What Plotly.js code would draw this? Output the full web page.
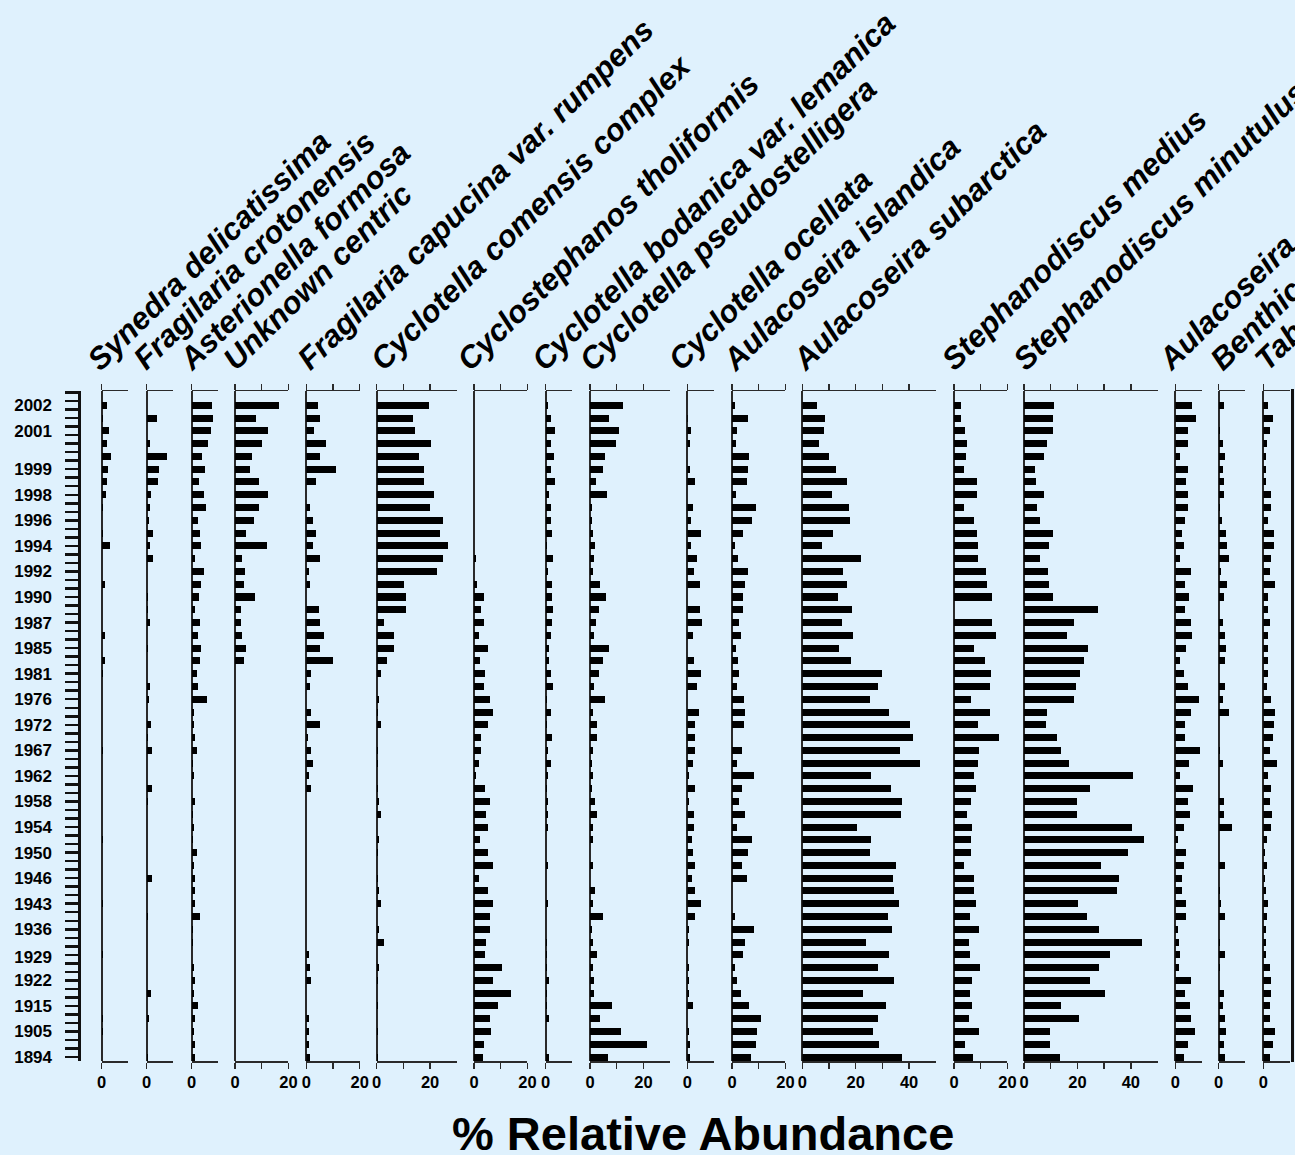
<!DOCTYPE html>
<html><head><meta charset="utf-8">
<script src="https://cdn.plot.ly/plotly-3.0.1.min.js"></script>
<style>html,body{margin:0;padding:0;background:#dff1fd;}#chart{width:1295px;height:1155px;}</style>
</head><body><div id="chart"></div>
<script>
// ---- data ----
const samplePos = [0,1,2,3,4,5,6,7,8,9,10,11,12,13,14,15,16,17,18,19,20,21,22,23,24,25,26,27,28,29,30,31,32,33,34,35,36,37,38,39,40,41,42,43,44,45,46,47,48,49,50,51];
const years = ['2002','2001','1999','1998','1996','1994','1992','1990','1987','1985','1981','1976','1972','1967','1962','1958','1954','1950','1946','1943','1936','1929','1922','1915','1905','1894'];
const yearPos = [0,2,5,7,9,11,13,15,17,19,21,23,25,27,29,31,33,35,37,39,41,43.2,45,47,49,51];
const taxa = ['Synedra delicatissima','Fragilaria crotonensis','Asterionella formosa','Unknown centric','Fragilaria capucina var. rumpens','Cyclotella comensis complex','Cyclostephanos tholiformis','Cyclotella bodanica var. lemanica','Cyclotella pseudostelligera','Cyclotella ocellata','Aulacoseira islandica','Aulacoseira subarctica','Stephanodiscus medius','Stephanodiscus minutulus','Aulacoseira ambigua','Benthic taxa','Tabellaria flocculosa'];

const synedra = [2.1,0.5,2.9,2.1,3.4,2.5,2.1,1.6,0.6,0, 0.5,3.0,0,0,1.2,0,0,0,1.2,0, 1.2,0.6,0,0,0,0,0,0.3,0,0, 0,0,0,0,0.3,0,0,0,0,0.3, 0,0,0,0.3,0,0,0,0,0.3,0.6, 0,0];
const fragCroto = [0,3.75,0,1.1,7.75,4.6,4.25,1.6,1.1,0.75, 2.5,1.1,2.5,0,0,0.6,0.6,1.1,0,0.6, 0,0,1.1,0.7,0,1.5,0.3,2.0,0,0, 2.0,0.6,0,0,0,0,0,2.0,0,0, 0.5,0,0,0,0,0,1.5,0,1.0,0, 0,0.4];
const asterionella = [7.5,7.9,7.1,6.25,4.0,4.9,2.75,4.5,5.4,2.25, 3.25,3.6,1.4,4.5,3.6,2.75,1.4,3.25,2.25,3.6, 3.25,1.9,2.25,5.75,0.9,0.9,1.4,1.9,0.5,0.9, 0,1.4,0.5,0.9,0.5,1.9,0.9,1.4,1.4,1.4, 3.1,0.5,0.5,0,0.9,1.4,0.9,2.25,1.4,0.9, 1.4,1.4];
const unknownCentric = [16.3,8.0,12.2,10.0,6.5,5.7,8.8,12.2,8.8,7.0, 4.0,11.9,2.7,3.6,3.2,7.4,2.2,2.2,2.7,4.0, 3.2,0,0,0,0,0,0,0,0,0, 0,0,0,0,0,0,0,0,0,0, 0,0,0,0,0,0,0,0,0,0, 0,0];
const fragCapucina = [4.2,5.0,2.8,7.3,5.0,11.2,3.8,0,1.5,2.4, 3.8,2.4,5.0,1.0,1.5,0,4.7,5.0,6.8,5.0, 9.9,1.9,1.5,0,1.9,5.0,0.5,1.9,2.4,1.0, 1.9,0,0,0,0,0,0,0,0,0, 0,0,0,1.0,1.4,1.9,0,0,1.0,1.0, 1.0,1.4];
const cycComensis = [19.4,13.5,14.4,20.3,15.8,17.6,17.6,21.6,19.9,24.7, 23.8,26.6,24.7,22.5,10.4,10.9,10.9,2.9,6.3,6.3, 3.7,1.5,0,1.0,0.6,1.5,0,0.6,0.5,0, 0.5,1.0,1.5,0,1.0,0.5,0,0.5,1.0,1.5, 0,1.0,2.9,0,1.0,0.5,0,0.5,0,0.5, 0,0.5];
const cycloTholi = [0,0,0,0,0,0,0,0,0,0, 0,0,0.6,0,1.0,3.7,2.7,3.7,1.9,5.1, 2.3,4.1,3.7,5.9,7.2,5.4,2.8,2.8,1.9,0.6, 4.1,5.9,4.6,5.4,2.3,5.4,7.2,1.9,5.1,7.2, 5.9,5.9,4.6,4.1,10.6,7.2,13.7,8.9,5.9,6.3, 3.7,3.2];
const cycBodanica = [1.0,1.9,3.6,1.9,3.2,1.9,3.6,1.4,1.9,1.9, 2.2,0.6,2.7,1.0,2.2,2.2,2.7,2.2,1.9,1.4, 1.4,1.9,2.7,0.6,1.9,0.6,2.2,1.0,1.9,1.0, 0.6,1.0,1.0,1.0,0,0,1.0,0,0,1.0, 0,0,0.6,0.6,0.6,1.4,0.6,0.6,1.4,0, 0,1.4];
const cycPseudo = [12.2,7.3,10.8,9.9,5.5,5.0,2.4,6.4,0.6,0.6, 1.0,1.9,1.5,1.0,3.8,5.9,3.3,2.4,1.5,7.3, 4.7,3.3,1.5,5.5,1.0,2.8,2.8,1.0,0.6,1.0, 0.6,1.9,2.8,1.0,1.0,0,1.0,0,1.9,1.0, 4.7,0.6,1.0,2.8,1.0,1.5,1.5,8.2,3.8,11.7, 21.4,6.8];
const cycOcellata = [0,0.4,1.4,1.2,0,1.1,2.9,0,2.0,1.4, 5.1,1.4,3.7,2.5,4.6,0,4.6,5.5,2.0,0, 2.5,5.1,3.7,0,4.3,2.9,2.9,2.9,2.0,0.5, 2.9,0.5,2.5,2.5,1.7,2.0,2.9,1.7,2.9,5.1, 2.9,0.5,0.5,0,0.5,0.5,0.5,2.0,0,0.5, 1.0,1.0];
const aulIslandica = [1.0,5.9,1.9,1.5,6.4,5.9,5.5,1.5,9.0,7.6, 4.1,1.0,2.4,5.9,5.0,4.1,4.1,2.75,3.25,1.5, 2.4,2.75,1.9,4.5,5.0,4.5,0,3.6,1.9,8.1, 3.6,2.75,5.0,1.9,7.6,5.9,3.6,5.5,0,0, 1.0,8.1,5.0,4.1,1.0,1.9,3.25,6.4,10.75,9.4, 9.0,7.25];
const aulSubarctica = [5.5,8.5,8.1,6.4,9.9,12.5,16.9,11.25,17.4,17.75, 11.6,7.25,22.1,15.1,16.9,13.4,18.6,14.75,19.1,13.9, 18.25,30.0,28.25,25.25,32.6,40.5,41.4,36.6,44.0,25.6, 33.1,37.5,37.0,20.4,25.6,25.25,35.25,34.0,34.4,36.1, 32.25,33.5,23.9,32.6,28.25,34.4,22.6,31.4,28.25,26.5, 28.75,37.5];
const steMedius = [2.8,2.8,4.1,5.0,4.6,3.7,8.5,8.5,3.6,7.6, 8.5,9.0,9.0,12.1,12.5,14.4,0,14.4,15.7,7.6, 11.6,13.9,13.5,6.4,13.5,9.0,17.0,9.4,9.0,7.6, 8.2,6.4,5.0,6.75,6.4,6.4,3.7,7.6,7.6,8.2, 5.9,9.4,5.5,5.9,9.9,6.75,5.9,6.75,5.5,9.4, 4.1,7.3];
const steMinutulus = [11.1,10.75,10.75,8.5,7.6,4.1,4.6,7.6,5.0,5.9, 10.75,9.4,5.9,9.0,9.4,10.75,27.9,18.6,16.0,23.9, 22.5,20.9,19.5,18.6,8.5,8.1,12.5,13.75,16.9,41.0, 24.75,19.9,19.9,40.6,45.0,38.9,28.75,35.75,34.9,20.4, 23.5,28.25,44.1,32.25,28.25,24.75,30.5,13.75,20.75,9.9, 9.9,13.4];
const aulOther = [6.4,7.6,4.6,4.6,1.9,4.6,4.1,4.6,4.6,3.6, 2.4,3.25,1.9,5.9,3.75,5.0,3.75,5.9,6.4,4.1, 1.9,3.25,4.6,9.0,5.9,3.6,3.6,9.4,5.0,1.9, 6.75,4.6,5.5,3.25,1.0,4.1,3.25,2.4,2.4,4.1, 4.1,1.0,1.5,1.9,1.4,5.9,3.6,5.5,5.9,7.25, 4.6,3.25];
const benthic = [1.9,0,0.6,1.5,2.4,1.5,1.9,1.9,0.6,1.1, 2.9,3.25,3.75,1.0,3.25,1.9,0,1.5,2.4,2.75, 2.4,0,2.4,1.5,3.75,0,0,0.6,1.5,0, 0,1.9,1.9,5.0,0,0,2.4,0,0.6,1.0, 2.4,0,0.6,2.4,0.6,0,1.9,1.5,2.4,2.75, 1.9,2.4];
const tabellaria = [1.9,3.6,2.4,1.4,1.0,1.0,1.0,2.75,2.75,1.9, 4.1,4.1,2.75,2.4,4.5,1.9,1.9,2.4,1.9,1.9, 1.9,1.9,1.4,2.75,4.5,4.1,3.6,2.4,5.0,1.9, 2.75,2.4,3.25,2.75,1.4,0.5,1.4,0.5,1.0,1.9, 1.4,1.0,1.0,1.0,2.4,2.75,2.75,2.4,2.4,4.5, 3.6,2.4];

const series = [synedra,fragCroto,asterionella,unknownCentric,fragCapucina,cycComensis,cycloTholi,cycBodanica,cycPseudo,cycOcellata,aulIslandica,aulSubarctica,steMedius,steMinutulus,aulOther,benthic,tabellaria];
const axisMax = [10,10,10,20,20,30,20,10,30,10,20,50,20,50,10,10,10];

// ---- geometry (pixels) ----
const W = 1295, H = 1155;
const zeroPx = [101.7,146.7,191.7,235,306.3,376.7,474,545.7,590,687.3,732,802.3,954,1024,1175.3,1218.7,1263.3];
const titleStartPx = [92,138,183,228,302,375,462,536,584,673,727,797,946,1018,1163,1214,1259];
const PXPER = 2.67;
const plotTop = 391, plotBot = 1061;
const s0 = 405.3, ds = 12.78;
const yr = [(plotBot - s0)/ds, (plotTop - s0)/ds];
const px2x = p => p / W, px2y = p => 1 - p / H;

const AXC = '#2a2a2a';
const traces = [], layout = {
  width: W, height: H, margin: {l:0,r:0,t:0,b:0},
  paper_bgcolor: '#dff1fd', plot_bgcolor: 'rgba(0,0,0,0)',
  showlegend: false, bargap: 0,
  font: {family: 'Liberation Sans, Arial, sans-serif', color: '#000'},
  annotations: [], shapes: []
};

layout.yaxis = {
  domain: [px2y(plotBot), px2y(plotTop)], range: yr, anchor: 'free', position: px2x(79),
  showline: true, linewidth: 3, linecolor: '#111', zeroline: false, showgrid: false,
  tickmode: 'linear', tick0: -1, dtick: 2/3, ticks: 'outside', ticklen: 13, tickwidth: 2.5, tickcolor: '#111',
  showticklabels: false
};
layout.yaxis18 = {
  overlaying: 'y', matches: 'y', anchor: 'free', position: px2x(79), side: 'left',
  showline: false, zeroline: false, showgrid: false,
  tickmode: 'array', tickvals: yearPos, ticktext: years, ticks: '',
  ticklabelstandoff: 27,
  tickfont: {size: 17, weight: 'bold', color: '#000'}
};
traces.push({type:'scatter', x:[null], y:[null], xaxis:'x', yaxis:'y18', hoverinfo:'skip', showlegend:false});

const FS = 31, ANG = 44.5, th = ANG*Math.PI/180;
const boxH = 1.15*FS + 2, desc = 0.21*FS + 1;
const corrX = 7, corrY = 6.5;

series.forEach((vals, i) => {
  const n = i + 1, xa = 'xaxis' + (n === 1 ? '' : n), xr = 'x' + (n === 1 ? '' : n);
  const m = axisMax[i];
  const x0 = zeroPx[i], x1 = x0 + m * PXPER;
  const tv = [], tt = [];
  if (m === 10) { tv.push(0); tt.push('0'); }
  else { const last = (m === 20) ? 20 : m - 10; for (let v = 0; v <= last; v += 10) { tv.push(v); tt.push(v % 20 === 0 ? String(v) : ''); } }
  layout[xa] = {
    domain: [px2x(x0), px2x(x1)], range: [0, m], anchor: 'y',
    showline: true, linewidth: 1.5, linecolor: AXC, mirror: 'ticks',
    ticks: 'outside', ticklen: 6, tickwidth: 1.5, tickcolor: AXC,
    tickmode: 'array', tickvals: tv, ticktext: tt,
    tickfont: {size: 16.5, weight: 'bold', color: '#000'},
    zeroline: true, zerolinecolor: AXC, zerolinewidth: 1.8, showgrid: false, fixedrange: true
  };
  traces.push({
    type: 'bar', orientation: 'h', x: vals, y: samplePos, xaxis: xr, yaxis: 'y',
    width: 0.55, marker: {color: '#000', line: {width: 0}}, hoverinfo: 'x+y'
  });
  const bx = titleStartPx[i] + corrX, by = 368 + corrY;
  layout.annotations.push({
    text: taxa[i], xref: 'paper', yref: 'paper', showarrow: false, textangle: -ANG,
    x: px2x(bx - (boxH - desc) * Math.sin(th)), y: px2y(by + desc * Math.cos(th)),
    xanchor: 'left', yanchor: 'bottom',
    font: {size: FS, weight: 'bold', style: 'italic', color: '#000'}
  });
});

layout.annotations.push({
  text: '% Relative Abundance', xref: 'paper', yref: 'paper', showarrow: false,
  x: px2x(703), y: px2y(1133), xanchor: 'center', yanchor: 'middle',
  font: {size: 47, weight: 'bold', color: '#000'}
});
layout.shapes.push({type:'line', xref:'paper', yref:'paper', x0: px2x(1292.5), x1: px2x(1292.5), y0: px2y(1062), y1: px2y(389), line:{color:'#111', width:3}});

Plotly.newPlot('chart', traces, layout, {staticPlot: true});
</script></body></html>
